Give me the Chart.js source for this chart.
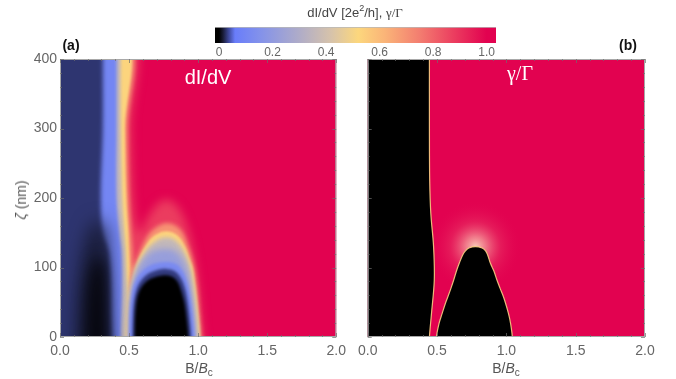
<!DOCTYPE html>
<html>
<head>
<meta charset="utf-8">
<script src="https://cdn.jsdelivr.net/npm/chart.js@4.4.1/dist/chart.umd.min.js"></script>
<style>
  body { margin: 0; background: #fff; width: 676px; height: 379px; position: relative; overflow: hidden;
         font-family: "Liberation Sans", Arial, sans-serif; }
  canvas { position: absolute; }
  .lbl { position: absolute; white-space: nowrap; transform: translate(-50%, -50%); color: #555; font-size: 14px; }
  .serif { font-family: "Liberation Serif", "DejaVu Serif", serif; }
</style>
</head>
<body>
<canvas id="cbar" width="310" height="45" style="left:200px;top:18px"></canvas>
<canvas id="panelA" width="352" height="379" style="left:0;top:0"></canvas>
<canvas id="panelB" width="324" height="379" style="left:352px;top:0"></canvas>

<div class="lbl" style="left:355px;top:12px;font-size:13px;color:#444">dI/dV [2e<sup style="font-size:9px">2</sup>/h], <span class="serif">γ/Γ</span></div>
<div class="lbl" style="left:71px;top:45px;font-weight:bold;color:#111">(a)</div>
<div class="lbl" style="left:628px;top:45px;font-weight:bold;color:#111">(b)</div>
<div class="lbl" style="left:208px;top:77px;font-size:20px;color:#fff">dI/dV</div>
<div class="lbl serif" style="left:520px;top:73px;font-size:20px;color:#fff">γ/Γ</div>
<div class="lbl" style="left:21px;top:200px;transform:translate(-50%,-50%) rotate(-90deg)"><i>ζ</i> (nm)</div>
<div class="lbl" style="left:199px;top:369px">B/<i>B</i><sub style="font-size:10px">c</sub></div>
<div class="lbl" style="left:506px;top:369px">B/<i>B</i><sub style="font-size:10px">c</sub></div>

<script>
// axis ticks
const bTicks = [0, 0.5, 1.0, 1.5, 2.0];
const zetaTicks = [0, 100, 200, 300, 400];
const cbarTicks = [0, 0.2, 0.4, 0.6, 0.8, 1.0];

// colour scale at the top
const cmapValues = [0, 0.015, 0.035, 0.06, 0.15, 0.30, 0.42, 0.52, 0.62, 0.75, 0.88, 1.0];
const cmapColors = ['#000000', '#191c37', '#3c4696', '#697dfa', '#8291eb', '#afacc8',
                    '#d7c3aa', '#fcd77d', '#fab478', '#f37d70', '#eb3c5f', '#e20250'];

// panel (a): left strip edges, B/Bc at each zeta (nm)
const stripZeta = [430, 400, 300, 200, 150, 125, 100, 68, 35, 0, -30];
const aNavyEdge = [0.31, 0.31, 0.31, 0.295, 0.31, 0.35, 0.36, 0.365, 0.365, 0.37, 0.37];
const aBlueEdge = [0.41, 0.41, 0.41, 0.41, 0.43, 0.445, 0.45, 0.45, 0.445, 0.44, 0.44];
const aLavEdge  = [0.44, 0.44, 0.44, 0.45, 0.465, 0.475, 0.48, 0.485, 0.48, 0.475, 0.475];

// panel (a): ridge + dome outlines [B/Bc, zeta]
const aPink = [[0.515,430],[0.515,300],[0.53,200],[0.55,165],[0.58,150],[0.63,170],[0.7,190],[0.77,198],
               [0.85,188],[0.92,160],[0.97,120],[1.0,80],[1.02,35],[1.035,0],[1.04,-30]];
const aSalmon = [[0.49,430],[0.49,300],[0.50,200],[0.515,150],[0.525,125],[0.53,100],[0.55,110],[0.6,133],
                 [0.66,152],[0.77,164],[0.87,155],[0.93,130],[0.97,103],[0.995,70],[1.01,35],[1.025,0],[1.03,-30]];
const aYellow = [[0.47,430],[0.47,300],[0.48,200],[0.495,150],[0.50,125],[0.505,100],[0.50,62],[0.515,77],
                 [0.545,100],[0.575,115],[0.61,128],[0.66,142],[0.71,149],[0.77,152],[0.83,149],[0.87,142],
                 [0.91,128],[0.935,114],[0.96,100],[0.975,80],[0.99,55],[1.0,35],[1.015,0],[1.02,-30]];
const aLavDome = [[0.493,-30],[0.495,0],[0.50,40],[0.51,68],[0.535,88],[0.565,103],[0.61,120],[0.66,133],
                  [0.72,141],[0.77,143],[0.82,141],[0.87,132],[0.91,118],[0.94,100],[0.96,78],[0.975,55],
                  [0.99,30],[0.997,0],[1.0,-30]];
const aMidDome = [[0.497,-30],[0.498,0],[0.503,40],[0.517,68],[0.545,90],[0.59,108],[0.65,121],[0.71,126],
                  [0.77,127],[0.83,124],[0.88,114],[0.915,100],[0.94,80],[0.958,55],[0.97,30],[0.985,0],[0.99,-30]];
const aBlueDome = [[0.50,-30],[0.50,0],[0.505,40],[0.525,68],[0.55,82],[0.59,94],[0.65,103],[0.71,107],
                   [0.77,108],[0.83,106],[0.87,100],[0.905,88],[0.93,72],[0.95,50],[0.965,25],[0.975,0],[0.978,-30]];
const aDarkDome = [[0.525,-30],[0.525,0],[0.53,40],[0.545,62],[0.575,78],[0.63,90],[0.7,96],[0.77,98],
                   [0.83,95],[0.875,85],[0.905,70],[0.925,50],[0.94,25],[0.95,0],[0.95,-30]];
const aBlackDome = [[0.54,-30],[0.54,0],[0.545,35],[0.56,58],[0.59,72],[0.64,82],[0.7,87],[0.76,89],
                    [0.81,87],[0.85,80],[0.875,68],[0.9,50],[0.915,30],[0.93,0],[0.93,-30]];
const aShadeOuter = [[0.11,-30],[0.12,20],[0.13,60],[0.16,110],[0.21,150],[0.27,168],[0.32,158],[0.34,120],
                     [0.345,60],[0.35,0],[0.35,-30]];
const aShadeCore = [[0.18,-30],[0.19,30],[0.21,80],[0.26,112],[0.3,114],[0.33,85],[0.34,40],[0.345,0],[0.345,-30]];

// panel (b): black regions
const bLeftZeta = [430, 400, 300, 226, 178, 130, 82, 34, 0, -30];
const bLeftEdge = [0.445, 0.445, 0.445, 0.447, 0.455, 0.475, 0.48, 0.46, 0.445, 0.44];
const bDome = [[0.494,-30],[0.496,0],[0.515,20],[0.537,34],[0.563,50],[0.582,60],[0.6,70],[0.62,82],
               [0.64,95],[0.66,106],[0.685,118],[0.705,124],[0.73,128],[0.777,130],[0.825,128],[0.85,124],
               [0.865,118],[0.885,106],[0.91,95],[0.932,82],[0.955,70],[0.975,60],[0.992,50],[1.015,34],
               [1.03,20],[1.043,0],[1.046,-30]];
const bHaloCenter = [0.777, 130];

const LO = -0.2, HI = 2.2, BOT = -30, TOP = 430;

function hexRgb(h) {
    return [1, 3, 5].map(i => parseInt(h.substr(i, 2), 16));
}

function cmap(v) {
    for (let i = 1; i < cmapValues.length; i++) {
        if (v <= cmapValues[i]) {
            const t = (v - cmapValues[i - 1]) / (cmapValues[i] - cmapValues[i - 1]);
            const a = hexRgb(cmapColors[i - 1]), b = hexRgb(cmapColors[i]);
            const c = a.map((av, k) => Math.round(av + (b[k] - av) * t));
            return `rgb(${c[0]},${c[1]},${c[2]})`;
        }
    }
    return cmapColors[cmapColors.length - 1];
}

const toPt = p => ({x: p[0], y: p[1]});

// region left of a curve running from top to bottom
function leftOf(curve) {
    return [{x: LO, y: TOP}, ...curve.map(toPt), {x: LO, y: BOT}, {x: LO, y: TOP}];
}
function edgeCurve(zetas, edge) {
    return zetas.map((z, i) => [edge[i], z]);
}
// closed arch standing on the bottom edge
function arch(curve) {
    return [...curve.map(toPt), toPt(curve[0])];
}

function layer(points, fillColor, blur, extra) {
    return Object.assign({
        data: points,
        showLine: true,
        fill: 'shape',
        backgroundColor: fillColor,
        borderColor: 'transparent',
        borderWidth: 0,
        pointRadius: 0,
        pointHoverRadius: 0,
        tension: 0.35,
        blur: blur
    }, extra || {});
}

const background = [{x: LO, y: BOT}, {x: LO, y: TOP}, {x: HI, y: TOP}, {x: HI, y: BOT}, {x: LO, y: BOT}];

// per-layer blur so the bands blend like a density plot.
// the filler paints a dataset's area before this plugin's hooks for that dataset,
// so the filter for the next dataset is set once the previous one is done.
function setBlur(chart, meta) {
    const b = meta ? chart.data.datasets[meta.index].blur : 0;
    chart.ctx.filter = b ? 'blur(' + b + 'px)' : 'none';
}
const smoothPlugin = {
    id: 'smooth',
    beforeDatasetsDraw(chart) {
        const metas = chart.getSortedVisibleDatasetMetas();
        chart.ctx.save();
        setBlur(chart, metas[metas.length - 1]);
    },
    afterDatasetDraw(chart, args) {
        const metas = chart.getSortedVisibleDatasetMetas();
        const pos = metas.indexOf(args.meta);
        setBlur(chart, pos > 0 ? metas[pos - 1] : null);
    },
    afterDatasetsDraw(chart) {
        chart.ctx.restore();
    }
};

// frame with inward ticks
const framePlugin = {
    id: 'frame',
    afterDraw(chart) {
        const {ctx, chartArea: a, scales: {x, y}} = chart;
        ctx.save();
        ctx.filter = 'none';
        ctx.strokeStyle = '#a8a8a8';
        ctx.lineWidth = 1;
        ctx.strokeRect(a.left + 0.5, a.top + 0.5, a.width - 1, a.height - 1);
        ctx.strokeStyle = 'rgba(110,110,110,0.7)';
        ctx.beginPath();
        for (let v = 0; v <= 2.0001; v += 0.1) {
            const px = Math.round(x.getPixelForValue(v)) + 0.5;
            const len = Math.abs(v * 2 - Math.round(v * 2)) < 1e-6 ? 4 : 2;
            ctx.moveTo(px, a.bottom); ctx.lineTo(px, a.bottom - len);
            ctx.moveTo(px, a.top); ctx.lineTo(px, a.top + len);
        }
        for (let v = 0; v <= 400; v += 20) {
            const py = Math.round(y.getPixelForValue(v)) + 0.5;
            const len = v % 100 === 0 ? 4 : 2;
            ctx.moveTo(a.left, py); ctx.lineTo(a.left + len, py);
            ctx.moveTo(a.right, py); ctx.lineTo(a.right - len, py);
        }
        ctx.stroke();
        ctx.restore();
    }
};

Chart.defaults.font.family = '"Liberation Sans", Arial, sans-serif';
Chart.defaults.color = '#666';

function panelOptions(padding, showY) {
    const yScale = {
        type: 'linear', min: 0, max: 400, display: showY,
        grid: {display: false, drawTicks: false},
        border: {display: false},
        afterBuildTicks: s => { s.ticks = zetaTicks.map(v => ({value: v})); },
        ticks: {font: {size: 14}, padding: 3, callback: v => String(v)}
    };
    if (showY) yScale.afterFit = s => { s.width = 60; };
    return {
        responsive: false,
        animation: false,
        events: [],
        layout: {padding: padding},
        elements: {line: {capBezierPoints: false}},
        scales: {
            x: {
                type: 'linear', min: 0, max: 2,
                grid: {display: false, drawTicks: false},
                border: {display: false},
                afterBuildTicks: s => { s.ticks = bTicks.map(v => ({value: v})); },
                afterFit: s => { s.height = 42; },
                ticks: {font: {size: 14}, padding: 6, maxRotation: 0, callback: v => v.toFixed(1)}
            },
            y: yScale
        },
        plugins: {legend: {display: false}, tooltip: {enabled: false}}
    };
}

function ordered(list) {
    list.forEach((d, i) => { d.order = list.length - i; });
    return list;
}

// panel (a): listed bottom layer first
const aDatasets = ordered([
    layer(background, cmap(1.0), 0, {tension: 0}),
    layer(leftOf(aPink), cmap(0.88), 5),
    layer(leftOf(aSalmon), cmap(0.70), 2),
    layer(leftOf(aYellow), cmap(0.53), 1),
    layer(leftOf(edgeCurve(stripZeta, aLavEdge)), cmap(0.36), 1.5),
    layer(leftOf(edgeCurve(stripZeta, aBlueEdge)), cmap(0.10), 1.5),
    layer(leftOf(edgeCurve(stripZeta, aNavyEdge)), cmap(0.027), 2),
    layer(arch(aShadeOuter), cmap(0.014), 9),
    layer(arch(aShadeCore), cmap(0.004), 7),
    layer(arch(aLavDome), cmap(0.36), 2),
    layer(arch(aMidDome), cmap(0.22), 3),
    layer(arch(aBlueDome), cmap(0.12), 1.5),
    layer(arch(aDarkDome), cmap(0.03), 1.5),
    layer(arch(aBlackDome), cmap(0), 1.5)
]);

new Chart(document.getElementById('panelA'), {
    type: 'scatter',
    data: {datasets: aDatasets},
    options: panelOptions({left: 0, top: 59, right: 14, bottom: 0}, true),
    plugins: [smoothPlugin, framePlugin]
});

function haloFill(c) {
    const chart = c.chart;
    if (!chart.chartArea) return 'rgba(0,0,0,0)';
    const cx = chart.scales.x.getPixelForValue(bHaloCenter[0]);
    const cy = chart.scales.y.getPixelForValue(bHaloCenter[1]);
    const g = chart.ctx.createRadialGradient(cx, cy, 0, cx, cy, 46);
    g.addColorStop(0, 'rgba(250,212,190,0.95)');
    g.addColorStop(0.22, 'rgba(245,158,155,0.75)');
    g.addColorStop(0.55, 'rgba(236,80,112,0.32)');
    g.addColorStop(1, 'rgba(226,2,80,0)');
    return g;
}

const bDatasets = ordered([
    layer(background, cmap(1.0), 0, {tension: 0}),
    layer(background, haloFill, 0, {tension: 0}),
    layer(leftOf(edgeCurve(bLeftZeta, bLeftEdge)), '#000', 0.4, {borderColor: 'rgba(250,205,130,0.9)', borderWidth: 1.2}),
    layer(arch(bDome), '#000', 0.4, {borderColor: 'rgba(250,205,130,0.9)', borderWidth: 1.2})
]);

new Chart(document.getElementById('panelB'), {
    type: 'scatter',
    data: {datasets: bDatasets},
    options: panelOptions({left: 15, top: 59, right: 31, bottom: 0}, false),
    plugins: [smoothPlugin, framePlugin]
});

// colour bar
new Chart(document.getElementById('cbar'), {
    type: 'bar',
    data: {
        labels: [''],
        datasets: [{
            data: [[-0.015, 1.035]],
            barPercentage: 1,
            categoryPercentage: 1,
            borderColor: '#b8b8b8',
            borderWidth: {top: 1, right: 0, bottom: 0, left: 0},
            borderSkipped: false,
            backgroundColor(c) {
                const chart = c.chart;
                if (!chart.chartArea) return cmapColors[0];
                const x = chart.scales.x;
                const g = chart.ctx.createLinearGradient(x.getPixelForValue(0), 0, x.getPixelForValue(1), 0);
                cmapValues.forEach((v, i) => g.addColorStop(v, cmapColors[i]));
                return g;
            }
        }]
    },
    options: {
        indexAxis: 'y',
        responsive: false,
        animation: false,
        events: [],
        layout: {padding: {left: 15, right: 14, top: 9, bottom: 0}},
        scales: {
            x: {
                type: 'linear', min: -0.015, max: 1.035,
                grid: {display: false, drawTicks: false},
                border: {display: false},
                afterBuildTicks: s => { s.ticks = cbarTicks.map(v => ({value: v})); },
                afterFit: s => { s.height = 20; },
                ticks: {font: {size: 12}, padding: 2, maxRotation: 0, callback: v => v === 0 ? '0' : v.toFixed(1)}
            },
            y: {display: false}
        },
        plugins: {legend: {display: false}, tooltip: {enabled: false}}
    }
});
</script>
</body>
</html>
